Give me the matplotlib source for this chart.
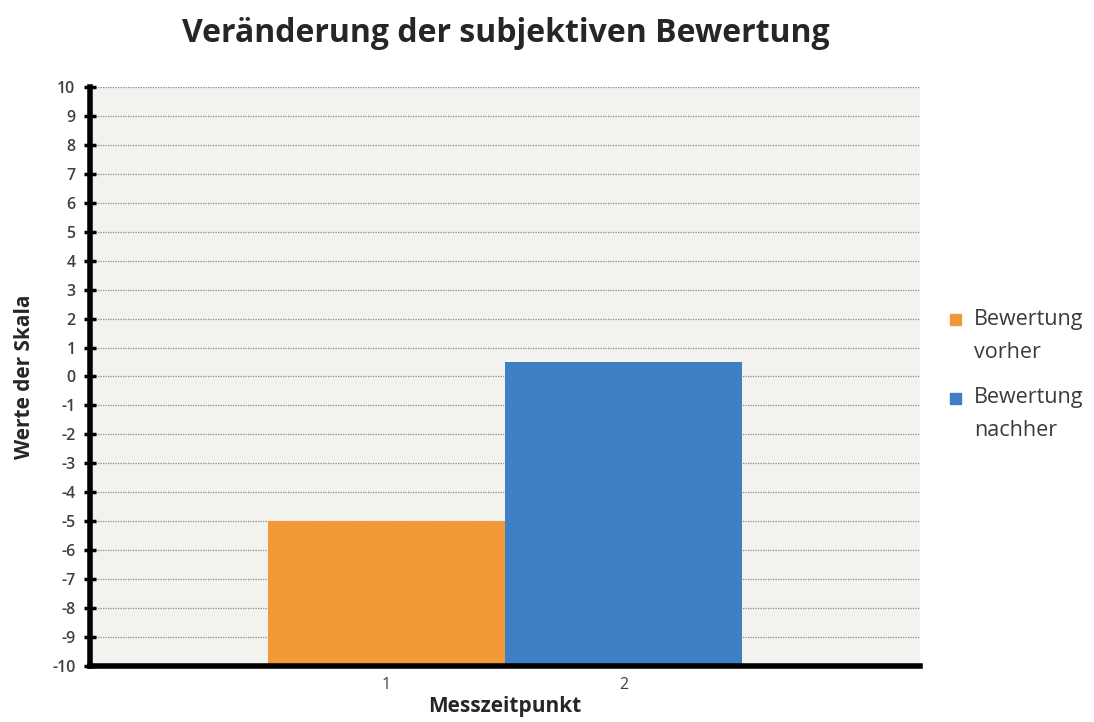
import numpy as np
import matplotlib
matplotlib.use("Agg")
import matplotlib.pyplot as plt
from matplotlib.patches import Rectangle

# Daten
positions = [1, 2]
tick_labels = ["1", "2"]
series_names = ["Bewertung\nvorher", "Bewertung\nnachher"]
series_values = [-5.0, 0.5]
baseline = -10
colors = ["#f39a38", "#3f7fc6"]
y_ticks = list(range(-10, 11))

plt.rcParams["font.family"] = ["Open Sans", "DejaVu Sans"]

W, H = 1094, 722
fig = plt.figure(figsize=(W / 100, H / 100), dpi=100)
ax = fig.add_axes([0.0823, 0.0776, 0.7587, 0.8019])
ax.set_facecolor("#f2f2ef")

for pos, val, name, col in zip(positions, series_values, series_names, colors):
    ax.bar(pos, val - baseline, bottom=baseline, width=1.0, color=col,
           label=name, zorder=3)

ax.set_xlim(-0.251, 3.251)
ax.set_ylim(-10, 10)
ax.set_yticks(y_ticks)
ax.set_yticklabels([str(v) for v in y_ticks], fontsize=11.5, fontweight="semibold",
                   color="#404040")
ax.set_xticks(positions)
ax.set_xticklabels(tick_labels, fontsize=11.5, color="#404040")
ax.tick_params(axis="x", length=0, pad=8)
ax.tick_params(axis="y", direction="inout", length=9, width=2.5, pad=6)

ax.grid(axis="y", ls=(0, (1, 1)), color="#8a8a8a", lw=0.9, zorder=1)
for s in ["top", "right"]:
    ax.spines[s].set_visible(False)
ax.spines["left"].set_linewidth(4)
ax.spines["bottom"].set_linewidth(4)
ax.spines["left"].set_zorder(4)
ax.spines["bottom"].set_zorder(4)

ax.set_ylabel("Werte der Skala", fontsize=15, fontweight="bold", color="#262626", labelpad=12)
ax.set_xlabel("Messzeitpunkt", fontsize=15, fontweight="bold", color="#262626", labelpad=2)
fig.text(0.462, 0.953, "Veränderung der subjektiven Bewertung", ha="center", va="center",
         fontsize=23, fontweight="bold", color="#262626")

# Legende von Hand: Quadrat auf Höhe der ersten Zeile
leg_x, leg_y0, entry_gap, line_gap, sq = 950, 319, 79, 33, 11
for i, (name, col) in enumerate(zip(series_names, colors)):
    yc = leg_y0 + i * entry_gap
    fig.patches.append(Rectangle(((leg_x) / W, 1 - (yc + sq / 2) / H), sq / W, sq / H,
                                 transform=fig.transFigure, color=col, figure=fig))
    for j, line in enumerate(name.split("\n")):
        fig.text((leg_x + 24) / W, 1 - (yc + j * line_gap) / H, line, ha="left",
                 va="center", fontsize=15.5, color="#3a3a3a")

plt.savefig("out.png", dpi=100)
